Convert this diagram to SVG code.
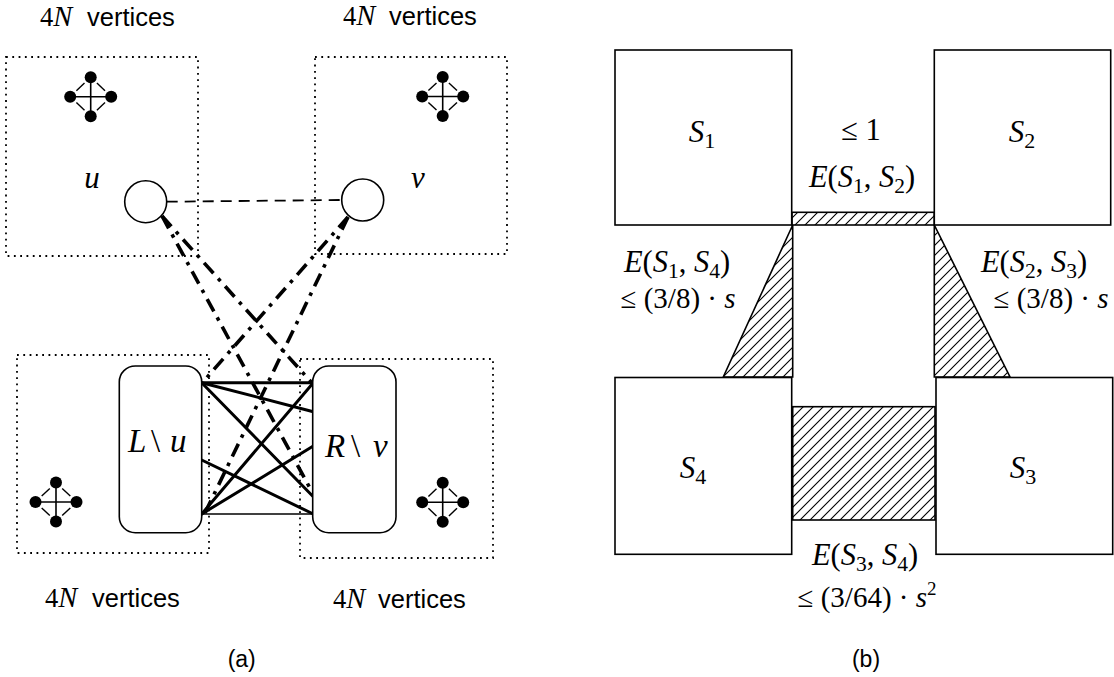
<svg xmlns="http://www.w3.org/2000/svg" width="1114" height="677" viewBox="0 0 1114 677">
<style>
.dot{fill:none;stroke:#000;stroke-width:1.8;stroke-dasharray:1.8 4.5}
.rr{fill:#fff;stroke:#000;stroke-width:1.6}
.circ{fill:#fff;stroke:#000;stroke-width:1.6}
.sq{fill:#fff;stroke:#000;stroke-width:1.6}
.hat{fill:url(#hatch);stroke:#000;stroke-width:1.6}
.sans{font-family:"Liberation Sans",Arial,sans-serif;fill:#000}
.ser{font-family:"Liberation Serif","Times New Roman",serif;fill:#000}
.it{font-style:italic}
.thick{stroke:#000;stroke-width:3;fill:none;stroke-linecap:round}
.dd{stroke:#000;stroke-width:3.6;fill:none;stroke-dasharray:14 7 3.5 7}
.dash{stroke:#000;stroke-width:1.8;fill:none;stroke-dasharray:11 7}
</style>
<defs>
<pattern id="hatch" patternUnits="userSpaceOnUse" width="10" height="10">
<path d="M-2,12 L12,-2 M-7,7 L7,-7 M3,17 L17,3" stroke="#000" stroke-width="1.1"/>
</pattern>
<g id="k4">
<line x1="-20.5" y1="0" x2="20.5" y2="0" stroke="#000" stroke-width="1.6"/>
<line x1="0" y1="-19.5" x2="0" y2="19.5" stroke="#000" stroke-width="1.6"/>
<g stroke="#000" stroke-width="1.4">
<line x1="-6.2" y1="-13.6" x2="-14.3" y2="-5.9"/>
<line x1="6.2" y1="-13.6" x2="14.3" y2="-5.9"/>
<line x1="-6.2" y1="13.6" x2="-14.3" y2="5.9"/>
<line x1="6.2" y1="13.6" x2="14.3" y2="5.9"/>
</g>
<circle cx="0" cy="-19.5" r="6"/>
<circle cx="0" cy="19.5" r="6"/>
<circle cx="-20.5" cy="0" r="6"/>
<circle cx="20.5" cy="0" r="6"/>
</g>
</defs>
<rect width="1114" height="677" fill="#fff"/>

<!-- Panel (a) -->
<g id="box-tl">
<rect class="dot" x="6" y="57" width="192" height="199"/>
<text class="ser" x="40" y="26" font-size="26.5">4<tspan class="it" font-size="28.5">N</tspan></text>
<text class="sans" x="87" y="26" font-size="25.5">vertices</text>
<use href="#k4" x="90.7" y="96.7"/>
</g>
<g id="box-tr">
<rect class="dot" x="315" y="57" width="192" height="197"/>
<text class="ser" x="343" y="25" font-size="26.5">4<tspan class="it" font-size="28.5">N</tspan></text>
<text class="sans" x="389" y="25" font-size="25.5">vertices</text>
<use href="#k4" x="442.7" y="96.5"/>
</g>
<g id="box-bl">
<rect class="dot" x="17" y="355" width="192" height="198"/>
<text class="ser" x="45" y="607" font-size="26.5">4<tspan class="it" font-size="28.5">N</tspan></text>
<text class="sans" x="92" y="607" font-size="25.5">vertices</text>
<use href="#k4" x="56" y="502"/>
</g>
<g id="box-br">
<rect class="dot" x="300" y="359" width="193" height="199"/>
<text class="ser" x="333" y="608" font-size="26.5">4<tspan class="it" font-size="28.5">N</tspan></text>
<text class="sans" x="378" y="608" font-size="25.5">vertices</text>
<use href="#k4" x="442.7" y="502.3"/>
</g>

<g id="connectors-a">
<line class="dash" x1="166.7" y1="201.7" x2="341.7" y2="200"/>
<line class="dd" x1="162" y1="216" x2="311" y2="490"/>
<line class="dd" x1="162" y1="216" x2="312" y2="383"/>
<line class="dd" x1="348" y1="217" x2="202" y2="383"/>
<line class="dd" x1="348" y1="217" x2="205" y2="513"/>
<g class="thick">
<line x1="201.7" y1="382.7" x2="313.3" y2="382.7"/>
<line x1="201.7" y1="382.7" x2="313.3" y2="411.7"/>
<line x1="201.7" y1="382.7" x2="313.3" y2="496.7"/>
<line x1="201.7" y1="460" x2="313.3" y2="514"/>
<line x1="201.7" y1="514" x2="313.3" y2="382.7"/>
<line x1="201.7" y1="514" x2="313.3" y2="446"/>
</g>
<line x1="201.7" y1="514" x2="313.3" y2="514" stroke="#000" stroke-width="1.6"/>
</g>

<g id="node-u">
<circle class="circ" cx="145.7" cy="201.7" r="21"/>
<text class="ser it" x="92" y="188" font-size="31" text-anchor="middle">u</text>
</g>
<g id="node-v">
<circle class="circ" cx="362.7" cy="200" r="21"/>
<text class="ser it" x="418" y="188" font-size="31" text-anchor="middle">v</text>
</g>
<g id="node-L">
<rect class="rr" x="119.3" y="366" width="82.4" height="166.7" rx="16"/>
<text class="ser" x="128" y="451.7" font-size="33"><tspan class="it">L</tspan><tspan x="151">\</tspan><tspan class="it" x="170">u</tspan></text>
</g>
<g id="node-R">
<rect class="rr" x="312.7" y="366" width="83.3" height="166.7" rx="16"/>
<text class="ser" x="325" y="456.7" font-size="33"><tspan class="it">R</tspan><tspan x="351">\</tspan><tspan class="it" x="373">v</tspan></text>
</g>
<text class="sans" x="241.7" y="667" font-size="23" text-anchor="middle">(a)</text>

<!-- Panel (b) -->
<g id="edge-regions">
<rect class="hat" x="792" y="212.3" width="142.3" height="12.7"/>
<polygon class="hat" points="792.7,225 792.7,377 723.3,377"/>
<polygon class="hat" points="934.3,225 934.3,377 1010,377"/>
<rect class="hat" x="792.7" y="406.7" width="142.3" height="113.3" stroke-width="2.2"/>
</g>
<g id="S1">
<rect class="sq" x="615" y="50" width="176.7" height="175"/>
<text class="ser" x="702" y="142" font-size="31" text-anchor="middle"><tspan class="it">S</tspan><tspan font-size="22" dy="6">1</tspan></text>
</g>
<g id="S2">
<rect class="sq" x="934.3" y="50" width="176.4" height="175"/>
<text class="ser" x="1022" y="142" font-size="31" text-anchor="middle"><tspan class="it">S</tspan><tspan font-size="22" dy="6">2</tspan></text>
</g>
<g id="S4">
<rect class="sq" x="615" y="377.5" width="176.7" height="176.8"/>
<text class="ser" x="693" y="478" font-size="31" text-anchor="middle"><tspan class="it">S</tspan><tspan font-size="22" dy="6">4</tspan></text>
</g>
<g id="S3">
<rect class="sq" x="936" y="377.5" width="176.7" height="176.8"/>
<text class="ser" x="1023" y="478" font-size="31" text-anchor="middle"><tspan class="it">S</tspan><tspan font-size="22" dy="6">3</tspan></text>
</g>
<g id="labels-b" class="ser" font-size="30.5">
<text x="861" y="140" text-anchor="middle">≤ 1</text>
<text x="862" y="187" text-anchor="middle"><tspan class="it">E</tspan>(<tspan class="it">S</tspan><tspan font-size="21.5" dy="6">1</tspan><tspan dy="-6">, </tspan><tspan class="it">S</tspan><tspan font-size="21.5" dy="6">2</tspan><tspan dy="-6">)</tspan></text>
<text x="677" y="271.7" text-anchor="middle"><tspan class="it">E</tspan>(<tspan class="it">S</tspan><tspan font-size="21.5" dy="6">1</tspan><tspan dy="-6">, </tspan><tspan class="it">S</tspan><tspan font-size="21.5" dy="6">4</tspan><tspan dy="-6">)</tspan></text>
<text x="678" y="308.3" font-size="29" text-anchor="middle">≤ (3/8) · <tspan class="it">s</tspan></text>
<text x="1034" y="271.7" text-anchor="middle"><tspan class="it">E</tspan>(<tspan class="it">S</tspan><tspan font-size="21.5" dy="6">2</tspan><tspan dy="-6">, </tspan><tspan class="it">S</tspan><tspan font-size="21.5" dy="6">3</tspan><tspan dy="-6">)</tspan></text>
<text x="1051" y="308.3" font-size="29" text-anchor="middle">≤ (3/8) · <tspan class="it">s</tspan></text>
<text x="865" y="565" text-anchor="middle"><tspan class="it">E</tspan>(<tspan class="it">S</tspan><tspan font-size="21.5" dy="6">3</tspan><tspan dy="-6">, </tspan><tspan class="it">S</tspan><tspan font-size="21.5" dy="6">4</tspan><tspan dy="-6">)</tspan></text>
<text x="867" y="606.7" font-size="29" text-anchor="middle">≤ (3/64) · <tspan class="it">s</tspan><tspan font-size="19" dy="-12">2</tspan></text>
</g>
<text class="sans" x="866" y="667" font-size="23" text-anchor="middle">(b)</text>
</svg>
